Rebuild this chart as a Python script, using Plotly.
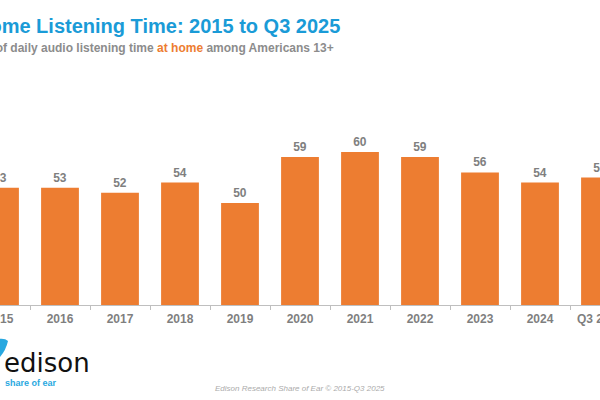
import plotly.graph_objects as go

categories = ["2015", "2016", "2017", "2018", "2019", "2020", "2021", "2022", "2023", "2024", "Q3 2025"]
values = [53, 53, 52, 54, 50, 59, 60, 59, 56, 54, 55]

W, H = 600, 400
ML, MR, MT, MB = 0, 0, 101, 95
YMIN, YMAX = 30, 70

def px(x):
    return (x - ML) / (W - ML - MR)

def py(y):
    return (H - MB - y) / (H - MT - MB)

fig = go.Figure()
fig.add_trace(go.Bar(
    x=categories, y=values,
    marker=dict(color="#ED7D31", line=dict(width=0)),
    width=0.63,
    text=[str(v) for v in values],
    textposition="outside",
    textfont=dict(family="Liberation Sans, Arial", size=12, color="#7F7F7F"),
    texttemplate="<b>%{text}</b>",
    cliponaxis=False,
    hoverinfo="skip",
))

annotations = [
    dict(text="<b>Home Listening Time: 2015 to Q3 2025</b>", x=px(342), y=py(26), xref="paper", yref="paper",
         xanchor="right", yanchor="middle", showarrow=False,
         font=dict(family="Liberation Sans, Arial", size=20, color="#1A9BD7")),
    dict(text="<b>Share of daily audio listening time <span style='color:#ED7D31'>at home</span> among Americans 13+</b>",
         x=px(336), y=py(48), xref="paper", yref="paper", xanchor="right", yanchor="middle", showarrow=False,
         font=dict(family="Liberation Sans, Arial", size=12, color="#8C8C8C")),
    dict(text="edison", x=px(2), y=py(363), xref="paper", yref="paper", xanchor="left", yanchor="middle",
         showarrow=False, font=dict(family="DejaVu Sans", size=26, color="#111111")),
    dict(text="<b>share of ear</b>", x=px(3), y=py(383), xref="paper", yref="paper", xanchor="left",
         yanchor="middle", showarrow=False, font=dict(family="Liberation Sans, Arial", size=9, color="#29A8E0")),
    dict(text="<i>Edison Research Share of Ear © 2015-Q3 2025</i>", x=px(300), y=py(388), xref="paper",
         yref="paper", xanchor="center", yanchor="middle", showarrow=False,
         font=dict(family="Liberation Sans, Arial", size=8, color="#ABABAB")),
]

# blue swoosh of the logo
swoosh = (f"M {px(-6)},{py(340)} Q {px(4)},{py(337)} {px(8)},{py(341)} "
          f"Q {px(6)},{py(350)} {px(0)},{py(357)} Q {px(-6)},{py(350)} {px(-6)},{py(340)} Z")
shapes = [dict(type="path", path=swoosh, xref="paper", yref="paper", fillcolor="#29A8E0", line=dict(width=0))]

fig.update_layout(
    width=W, height=H,
    margin=dict(l=ML, r=MR, t=MT, b=MB, autoexpand=False),
    paper_bgcolor="white", plot_bgcolor="white",
    showlegend=False,
    bargap=0.37,
    annotations=annotations,
    shapes=shapes,
    xaxis=dict(
        range=[0, 10], automargin=False,
        showline=True, linecolor="#BFBFBF", linewidth=1,
        ticks="outside", tickson="boundaries", ticklen=4, tickcolor="#BFBFBF",
        ticklabelstandoff=3,
        tickfont=dict(family="Liberation Sans, Arial", size=12, color="#7F7F7F"),
        showgrid=False, fixedrange=True,
    ),
    yaxis=dict(range=[YMIN, YMAX], visible=False, showgrid=False, fixedrange=True, automargin=False),
)
fig.update_xaxes(tickprefix="<b>", ticksuffix="</b>")

fig.write_html("out.html", config={"displayModeBar": False},
               post_script="document.body.style.margin='0';document.body.style.overflow='hidden';")
